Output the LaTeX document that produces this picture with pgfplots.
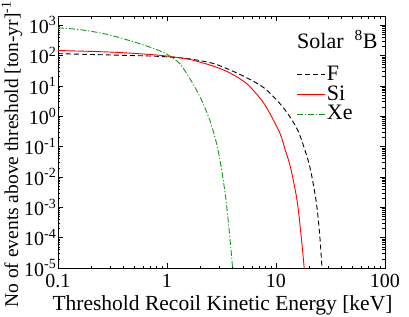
\documentclass[border=0pt]{standalone}
\usepackage{fontspec}
\setmainfont{Liberation Serif}
\usepackage{pgfplots}
\pgfplotsset{compat=1.18}
\definecolor{xegreen}{RGB}{20,155,20}
\definecolor{sired}{RGB}{255,0,0}
\begin{document}
\fontsize{22}{24}\selectfont
\begin{tikzpicture}
\begin{axis}[
  scale only axis, width=327pt, height=252pt,
  xmode=log, ymode=log,
  xmin=0.1, xmax=100, ymin=1e-5, ymax=2000,
  xtick={0.1,1,10,100}, xticklabels={0.1,1,10,100},
  ytick={1e-5,1e-4,1e-3,1e-2,1e-1,1,10,100,1000},
  yticklabels={10\textsuperscript{-5},10\textsuperscript{-4},10\textsuperscript{-3},10\textsuperscript{-2},10\textsuperscript{-1},10\textsuperscript{0},10\textsuperscript{1},10\textsuperscript{2},10\textsuperscript{3}},
  tick align=inside, tick pos=both,
  major tick length=5pt, minor tick length=2.5pt,
  every tick/.style={black, line width=0.5pt},
  axis line style={line width=0.8pt},
  xticklabel style={font=\fontsize{20}{22}\selectfont, anchor=base, yshift=-19pt},
  yticklabel style={font=\fontsize{20}{22}\selectfont, inner sep=1.5pt},
  xlabel={Threshold Recoil Kinetic Energy [keV]},
  ylabel={No of events above threshold [ton-yr]\textsuperscript{-1}},
  xlabel style={font=\fontsize{21.5}{23}\selectfont, at={(rel axis cs:0.503,0)}, anchor=base, yshift=-42pt},
  ylabel style={font=\fontsize{19.5}{21}\selectfont, at={(rel axis cs:-0.141,0.45)}, anchor=center},
  legend style={draw=none, fill=none, at={(rel axis cs:0.728,0.81)}, anchor=north west,
    font=\fontsize{22}{22}\selectfont, inner sep=0pt, outer sep=0pt, row sep=-2pt},
  legend cell align=left,
  legend image code/.code={\draw[#1] (0pt,0pt) -- (28pt,0pt);},
]
\addplot[draw=black, line width=0.9pt, dash pattern=on 5pt off 3pt, smooth, tension=0.5] coordinates {
(0.1,115)(0.300,104)(0.698,96)(1.065,89)(1.626,77)(2.64,55)(3.78,33.5)(5.42,18.3)(7.76,8.6)(10.9,2.57)(13.4,0.96)(15.9,0.335)(18.1,0.093)(20.5,0.0205)(23.3,1.7e-3)(25.1,1.41e-4)(26.4,1.08e-5)(27.3,1.6e-6)};
\addlegendentry{F}
\addplot[draw=sired, line width=0.9pt, smooth, tension=0.5] coordinates {
(0.1,146)(0.300,130)(0.698,108)(1.065,93)(1.626,74)(2.64,45)(3.78,26.7)(5.42,11.6)(7.45,3.22)(8.81,1.21)(10.9,0.267)(12.2,0.074)(13.6,0.0205)(15.6,1.7e-3)(16.9,1.41e-4)(18.1,1.08e-5)(18.8,1.3e-6)};
\addlegendentry{Si}
\addplot[draw=xegreen, line width=0.9pt, dash pattern=on 6pt off 2pt on 1.2pt off 2pt, smooth, tension=0.5] coordinates {
(0.1,815)(0.159,711)(0.288,489)(0.577,238)(0.863,141)(1.065,96)(1.316,53)(1.626,17.0)(2.009,4.36)(2.48,0.71)(2.88,0.108)(3.20,0.0141)(3.48,1.7e-3)(3.74,1.41e-4)(3.99,1.08e-5)(4.12,1.6e-6)};
\addlegendentry{Xe}
\node[anchor=base west, inner sep=0pt, font=\fontsize{22}{24}\selectfont] at (rel axis cs:0.731,0.873) {Solar\ \ \textsuperscript{8}B};
\end{axis}
\pgfresetboundingbox
\path (current axis.south west) ++(-58pt,-48pt) rectangle ++(409pt,316pt);
\end{tikzpicture}
\end{document}
